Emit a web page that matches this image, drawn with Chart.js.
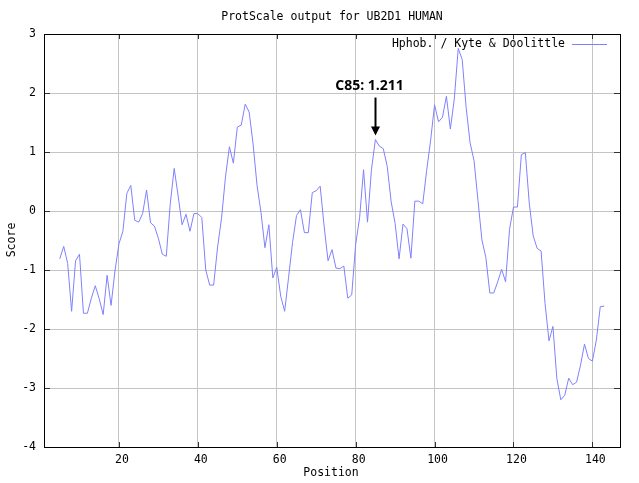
<!DOCTYPE html>
<html>
<head>
<meta charset="utf-8">
<title>ProtScale output for UB2D1 HUMAN</title>
<script src="https://cdn.jsdelivr.net/npm/chart.js@4/dist/chart.umd.min.js"></script>
<style>
  html, body { margin: 0; padding: 0; background: #fff; }
  canvas { display: block; }
</style>
</head>
<body>
<canvas id="protChart" width="639" height="483"></canvas>
<script>
// chart data
const chartTitle = 'ProtScale output for UB2D1 HUMAN';
const seriesName = 'Hphob. / Kyte & Doolittle';
const xTitle = 'Position';
const yTitle = 'Score';
const firstPosition = 5; // window of 9, first score sits on residue 5
const scores = [
  -0.811, -0.600, -0.889, -1.700, -0.844, -0.733, -1.733, -1.733, -1.478, -1.267,
  -1.489, -1.756, -1.089, -1.600, -1.011, -0.556, -0.344,  0.300,  0.433, -0.156,
  -0.189, -0.044,  0.356, -0.200, -0.256, -0.467, -0.733, -0.767,  0.122,  0.722,
   0.256, -0.233, -0.056, -0.344, -0.044, -0.044, -0.111, -1.000, -1.256, -1.256,
  -0.611, -0.122,  0.578,  1.089,  0.811,  1.422,  1.456,  1.811,  1.678,  1.133,
   0.433, -0.022, -0.622, -0.233, -1.133, -0.956, -1.444, -1.700, -1.122, -0.533,
  -0.078,  0.022, -0.367, -0.367,  0.311,  0.344,  0.422, -0.256, -0.844, -0.656,
  -0.967, -0.978, -0.933, -1.478, -1.422, -0.567, -0.111,  0.700, -0.189,  0.700,
   1.211,  1.100,  1.056,  0.756,  0.156, -0.211, -0.811, -0.222, -0.300, -0.800,
   0.167,  0.167,  0.122,  0.689,  1.200,  1.800,  1.511,  1.589,  1.944,  1.389,
   1.900,  2.756,  2.567,  1.756,  1.156,  0.856,  0.178, -0.489, -0.789, -1.389,
  -1.389, -1.200, -0.989, -1.200, -0.311,  0.067,  0.067,  0.956,  0.989,  0.133,
  -0.422, -0.633, -0.678, -1.567, -2.200, -1.956, -2.844, -3.200, -3.122, -2.833,
  -2.944, -2.900, -2.611, -2.256, -2.500, -2.544, -2.189, -1.622, -1.611
];
const xTicks = [20, 40, 60, 80, 100, 120, 140];
const yTicks = [-4, -3, -2, -1, 0, 1, 2, 3];
const markedPosition = 85;
const markedLabel = 'C85: 1.211';

const monoFont = '"DejaVu Sans Mono", "Liberation Mono", monospace';
const lineColor = '#8080ff';

const points = scores.map((s, i) => ({ x: firstPosition + i, y: s }));

// frame, tick stubs, texts and the arrow note (gnuplot style)
const frameAndNotes = {
  id: 'frameAndNotes',
  afterDatasetsDraw(chart) {
    const { ctx, chartArea: a, scales: { x, y } } = chart;
    ctx.save();

    // small tick marks on all four sides
    ctx.strokeStyle = '#333';
    ctx.lineWidth = 1;
    ctx.beginPath();
    xTicks.forEach(v => {
      const px = Math.round(x.getPixelForValue(v)) + 0.5;
      ctx.moveTo(px, a.top); ctx.lineTo(px, a.top + 5);
      ctx.moveTo(px, a.bottom); ctx.lineTo(px, a.bottom - 5);
    });
    yTicks.forEach(v => {
      const py = Math.round(y.getPixelForValue(v)) + 0.5;
      ctx.moveTo(a.left, py); ctx.lineTo(a.left + 6, py);
      ctx.moveTo(a.right, py); ctx.lineTo(a.right - 6, py);
    });
    ctx.stroke();

    // border box
    ctx.strokeStyle = '#000';
    ctx.strokeRect(Math.round(a.left) + 0.5, Math.round(a.top) + 0.5,
      Math.round(a.right - a.left), Math.round(a.bottom - a.top));

    // title + axis titles
    ctx.fillStyle = '#000';
    ctx.font = '11.5px ' + monoFont;
    ctx.textAlign = 'center';
    ctx.textBaseline = 'middle';
    ctx.fillText(chartTitle, (a.left + a.right) / 2, 17);
    ctx.fillText(xTitle, (a.left + a.right) / 2 - 1, 473);
    ctx.save();
    ctx.translate(12, 240);
    ctx.rotate(-Math.PI / 2);
    ctx.fillText(yTitle, 0, 0);
    ctx.restore();

    // legend
    ctx.textAlign = 'right';
    ctx.fillText(seriesName, 565, 44);
    ctx.strokeStyle = lineColor;
    ctx.beginPath();
    ctx.moveTo(572, 44.5); ctx.lineTo(607, 44.5);
    ctx.stroke();

    // arrow note at the marked residue
    const px = Math.round(x.getPixelForValue(markedPosition)) + 0.5;
    const py = y.getPixelForValue(scores[markedPosition - firstPosition]);
    ctx.strokeStyle = '#000';
    ctx.lineWidth = 2;
    ctx.beginPath();
    ctx.moveTo(px, py - 42);
    ctx.lineTo(px, py - 10);
    ctx.stroke();
    ctx.fillStyle = '#000';
    ctx.beginPath();
    ctx.moveTo(px, py - 4);
    ctx.lineTo(px - 4.5, py - 13);
    ctx.lineTo(px + 4.5, py - 13);
    ctx.closePath();
    ctx.fill();
    ctx.font = 'bold 14px "Open Sans", "DejaVu Sans", sans-serif';
    ctx.textAlign = 'center';
    ctx.fillText(markedLabel, px - 6, py - 54);

    ctx.restore();
  }
};

const ctx = document.getElementById('protChart').getContext('2d');
new Chart(ctx, {
  type: 'line',
  data: {
    datasets: [{
      label: seriesName,
      data: points,
      borderColor: lineColor,
      borderWidth: 1,
      pointRadius: 0,
      fill: false,
      tension: 0
    }]
  },
  options: {
    responsive: false,
    animation: false,
    devicePixelRatio: 1,
    layout: { padding: { top: 34, right: 19, left: 0, bottom: 0 } },
    plugins: {
      legend: { display: false },
      title: { display: false },
      tooltip: { enabled: false }
    },
    scales: {
      x: {
        type: 'linear',
        min: 1,
        max: 147,
        afterBuildTicks: scale => { scale.ticks = xTicks.map(v => ({ value: v })); },
        afterFit: scale => { scale.height = 36; },
        grid: { color: '#c4c4c4', lineWidth: 1, drawTicks: false },
        border: { display: false },
        ticks: {
          color: '#000',
          font: { family: monoFont, size: 11.5 },
          padding: 6,
          labelOffset: 3,
          maxRotation: 0
        }
      },
      y: {
        type: 'linear',
        min: -4,
        max: 3,
        afterBuildTicks: scale => { scale.ticks = yTicks.map(v => ({ value: v })); },
        afterFit: scale => { scale.width = 44; },
        grid: { color: '#c4c4c4', lineWidth: 1, drawTicks: false },
        border: { display: false },
        ticks: {
          color: '#000',
          font: { family: monoFont, size: 11.5 },
          padding: 8
        }
      }
    }
  },
  plugins: [frameAndNotes]
});
</script>
</body>
</html>
